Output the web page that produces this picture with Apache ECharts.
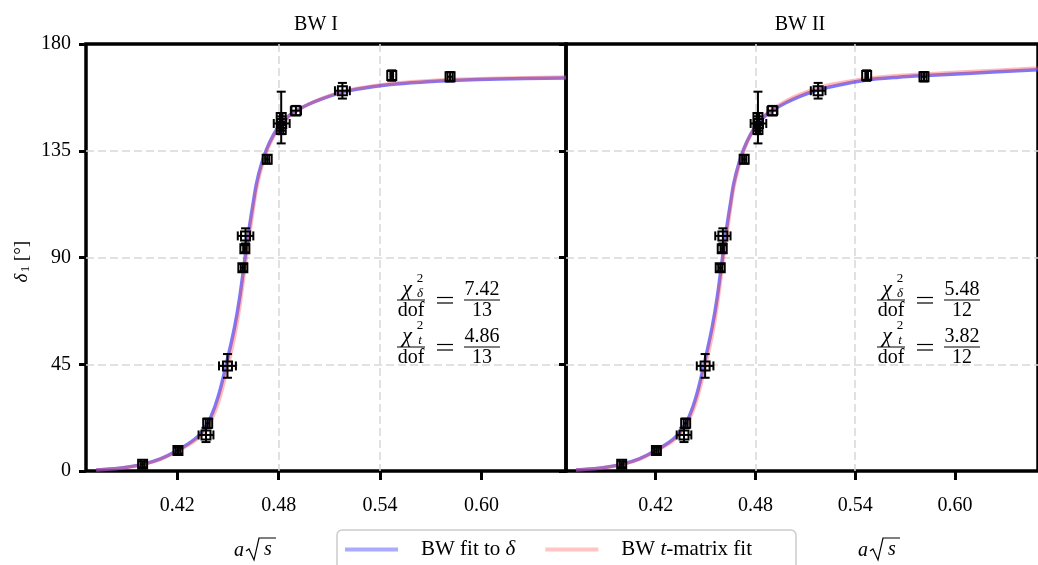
<!DOCTYPE html>
<html>
<head>
<meta charset="utf-8">
<script src="https://cdn.jsdelivr.net/npm/echarts@6/dist/echarts.min.js"></script>
<style>
    html, body { margin: 0; padding: 0; background: #fff; }
    #chart { width: 1038px; height: 565px; }
</style>
</head>
<body>
<div id="chart"></div>
<script>
    var FONT = 'Liberation Serif, DejaVu Serif, serif'

    // lattice points, same in both panels
    var pointX = [0.3995, 0.4204, 0.4370, 0.4380, 0.4497, 0.4588, 0.4600, 0.4604, 0.4732, 0.4815, 0.4818, 0.4815, 0.4902, 0.5177, 0.5469, 0.5814]
    var pointY = [2.8, 8.6, 15.2, 20.1, 44.3, 85.7, 93.7, 99.1, 131.4, 149.0, 146.5, 144.0, 151.9, 160.3, 166.7, 166.2]
    var pointXErr = [0.0012, 0.0014, 0.0044, 0.0012, 0.0050, 0.0012, 0.0010, 0.0046, 0.0012, 0.0008, 0.0047, 0.0012, 0.0030, 0.0044, 0.0008, 0.0015]
    var pointYErr = [1.2, 1.2, 3.0, 2.0, 5.0, 1.5, 1.5, 3.2, 1.8, 10.9, 3.0, 2.0, 2.0, 3.3, 2.2, 2.0]

    // fit bands
    var curveX = [0.372, 0.38, 0.39, 0.40, 0.41, 0.42, 0.43, 0.435, 0.44, 0.4445, 0.4495, 0.454, 0.457, 0.4605, 0.4625, 0.465, 0.467, 0.470, 0.473, 0.477, 0.481, 0.486, 0.491, 0.498, 0.506, 0.516, 0.526, 0.546, 0.566, 0.586, 0.61, 0.65]
    var bw1Delta = [0.4, 0.8, 1.6, 2.9, 5.1, 8.6, 13.2, 16.9, 23.0, 32.0, 46.5, 61.0, 73.5, 92.0, 102.0, 113.3, 121.6, 129.8, 135.9, 141.8, 146.1, 149.7, 152.1, 154.7, 157.0, 159.3, 160.9, 162.9, 164.0, 164.7, 165.2, 165.7]
    var bw1T = [0.4, 0.8, 1.5, 2.8, 4.9, 8.3, 12.5, 15.8, 21.2, 29.2, 42.7, 57.0, 69.5, 88.0, 98.2, 110.4, 119.3, 128.2, 134.8, 141.0, 145.7, 149.5, 152.0, 154.7, 157.2, 159.6, 161.3, 163.3, 164.4, 165.1, 165.6, 166.1]
    var bw2Delta = [0.4, 0.8, 1.6, 2.9, 5.1, 8.6, 13.1, 16.8, 22.8, 31.8, 46.2, 60.8, 73.2, 91.7, 101.7, 113.0, 121.4, 129.6, 135.8, 141.8, 146.1, 149.8, 152.3, 155.1, 157.7, 160.3, 162.1, 164.7, 166.0, 166.8, 167.7, 169.1]
    var bw2T = [0.4, 0.8, 1.5, 2.8, 4.9, 8.3, 12.5, 15.9, 21.4, 29.5, 43.0, 57.3, 69.8, 88.3, 98.5, 110.7, 119.6, 128.5, 135.1, 141.5, 146.3, 150.2, 152.9, 155.9, 158.6, 161.1, 163.0, 165.4, 166.7, 167.5, 168.4, 169.9]

    var xTicks = [0.42, 0.48, 0.54, 0.60]
    var panelTitles = ['BW I', 'BW II']
    var chiDelta = ['7.42', '5.48']
    var chiT = ['4.86', '3.82']
    var dof = ['13', '12']

    var BLUE = '#4040ff'
    var RED = '#ff5050'

    function pairs (xs, ys) {
        return xs.map(function (x, i) { return [x, ys[i]] })
    }

    var points = pointX.map(function (x, i) {
        return [x, pointY[i], pointXErr[i], pointYErr[i]]
    })

    function renderErrorBar (params, api) {
        var x = api.value(0)
        var y = api.value(1)
        var ex = api.value(2)
        var ey = api.value(3)
        var c = api.coord([x, y])
        var l = api.coord([x - ex, y])
        var r = api.coord([x + ex, y])
        var t = api.coord([x, y + ey])
        var b = api.coord([x, y - ey])
        var cap = 4.5
        var half = 4.5
        var st = { stroke: '#000', lineWidth: 2 }
        return {
            type: 'group',
            children: [
                { type: 'line', shape: { x1: l[0], y1: c[1], x2: r[0], y2: c[1] }, style: st },
                { type: 'line', shape: { x1: c[0], y1: t[1], x2: c[0], y2: b[1] }, style: st },
                { type: 'line', shape: { x1: l[0], y1: c[1] - cap, x2: l[0], y2: c[1] + cap }, style: st },
                { type: 'line', shape: { x1: r[0], y1: c[1] - cap, x2: r[0], y2: c[1] + cap }, style: st },
                { type: 'line', shape: { x1: c[0] - cap, y1: t[1], x2: c[0] + cap, y2: t[1] }, style: st },
                { type: 'line', shape: { x1: c[0] - cap, y1: b[1], x2: c[0] + cap, y2: b[1] }, style: st },
                { type: 'rect', shape: { x: c[0] - half, y: c[1] - half, width: 2 * half, height: 2 * half }, style: { stroke: '#000', lineWidth: 2, fill: 'none' } }
            ]
        }
    }

    function txt (x, y, text, size, italic) {
        return {
            type: 'text',
            x: x,
            y: y,
            style: {
                text: text,
                fontSize: size,
                fontFamily: FONT,
                fontStyle: italic ? 'italic' : 'normal',
                fill: '#000',
                align: 'center',
                verticalAlign: 'middle'
            }
        }
    }

    function hline (x1, x2, y, w) {
        return { type: 'line', shape: { x1: x1, y1: y, x2: x2, y2: y }, style: { stroke: '#000', lineWidth: w || 1 } }
    }

    // chi^2/dof = a/b, built by hand
    function chiBlock (dx, lineY, sub, value, n) {
        var items = []
        var fx = 411 + dx
        items.push(txt(fx - 4, lineY - 11, 'χ', 22, true))
        items.push(txt(fx + 9, lineY - 21, '2', 13))
        items.push(txt(fx + 9, lineY - 6, sub, 13, true))
        items.push(hline(fx - 14, fx + 14, lineY))
        items.push(txt(fx, lineY + 11, 'dof', 20))
        items.push(hline(437 + dx, 453 + dx, lineY - 2.5, 1.2))
        items.push(hline(437 + dx, 453 + dx, lineY + 3, 1.2))
        items.push(hline(464 + dx, 500 + dx, lineY))
        items.push(txt(482 + dx, lineY - 10, value, 20))
        items.push(txt(482 + dx, lineY + 11, n, 20))
        return items
    }

    function xName (x0) {
        return [
            txt(x0 + 6, 551, 'a', 20, true),
            { type: 'polyline', shape: { points: [[x0 + 13, 551], [x0 + 16, 549], [x0 + 21, 560], [x0 + 26, 538], [x0 + 43, 538]] }, style: { stroke: '#000', lineWidth: 1.2, fill: null } },
            txt(x0 + 35, 550, 's', 20, true)
        ]
    }

    var graphics = []
    for (var p = 0; p < 2; p++) {
        graphics = graphics.concat(chiBlock(480 * p, 300, 'δ', chiDelta[p], dof[p]))
        graphics = graphics.concat(chiBlock(480 * p, 347, 't', chiT[p], dof[p]))
    }
    graphics = graphics.concat(xName(233), xName(857))
    graphics.push({
        type: 'group',
        x: 22,
        y: 262,
        rotation: Math.PI / 2,
        children: [
            txt(-16, 0, 'δ', 19, true),
            txt(-7, 4, '1', 13),
            txt(11, 0, '[°]', 19)
        ]
    })

    var grids = [
        { left: 86, right: 472, top: 44, bottom: 94, show: true, borderColor: '#000', borderWidth: 3.5 },
        { left: 566, right: -8, top: 44, bottom: 94, show: true, borderColor: '#000', borderWidth: 3.5 }
    ]

    var gridLine = { color: '#d8d8d8', width: 1.5, type: [8, 4] }

    var xAxes = [0, 1].map(function (i) {
        return {
            type: 'value',
            gridIndex: i,
            min: 0.366,
            max: 0.65,
            axisLine: { show: false },
            axisTick: { show: true, length: 9, lineStyle: { color: '#000', width: 3 }, customValues: xTicks },
            axisLabel: { customValues: xTicks, margin: 25, fontSize: 20, fontFamily: FONT, color: '#000', formatter: function (v) { return v.toFixed(2) } },
            splitLine: { show: true, showMinLine: false, showMaxLine: false, lineStyle: gridLine }
        }
    })

    var yAxes = [0, 1].map(function (i) {
        return {
            type: 'value',
            gridIndex: i,
            min: 0,
            max: 180,
            interval: 45,
            axisLine: { show: false },
            axisTick: { show: true, length: 7, lineStyle: { color: '#000', width: 3 } },
            axisLabel: { show: i === 0, margin: 15, fontSize: 20, fontFamily: FONT, color: '#000' },
            splitLine: { show: true, showMinLine: false, showMaxLine: false, lineStyle: gridLine }
        }
    })

    var bandData = [[bw1Delta, bw1T], [bw2Delta, bw2T]]
    var series = []
    for (var k = 0; k < 2; k++) {
        series.push({
            name: 'BW fit to δ',
            type: 'line',
            xAxisIndex: k,
            yAxisIndex: k,
            data: pairs(curveX, bandData[k][0]),
            showSymbol: false,
            smooth: 0.35,
            lineStyle: { color: BLUE, width: 3.5, opacity: 0.7 },
            itemStyle: { color: BLUE },
            z: 2,
            animation: false
        })
        series.push({
            name: 'BW t-matrix fit',
            type: 'line',
            xAxisIndex: k,
            yAxisIndex: k,
            data: pairs(curveX, bandData[k][1]),
            showSymbol: false,
            smooth: 0.35,
            lineStyle: { color: RED, width: 3.5, opacity: 0.38 },
            itemStyle: { color: RED },
            z: 3,
            animation: false
        })
        series.push({
            name: 'data',
            type: 'custom',
            xAxisIndex: k,
            yAxisIndex: k,
            renderItem: renderErrorBar,
            encode: { x: 0, y: 1 },
            data: points,
            z: 5,
            animation: false
        })
    }

    var chart = echarts.init(document.getElementById('chart'))
    chart.setOption({
        backgroundColor: '#fff',
        animation: false,
        title: [
            { text: panelTitles[0], left: 311, top: 10, textAlign: 'center', textStyle: { fontSize: 20, fontWeight: 'normal', fontFamily: FONT, color: '#000' } },
            { text: panelTitles[1], left: 795, top: 10, textAlign: 'center', textStyle: { fontSize: 20, fontWeight: 'normal', fontFamily: FONT, color: '#000' } }
        ],
        legend: {
            left: 337,
            top: 530,
            padding: [9, 44, 14, 8],
            itemGap: 30,
            itemWidth: 53,
            itemHeight: 4,
            icon: 'rect',
            backgroundColor: '#fff',
            borderColor: '#cccccc',
            borderWidth: 1.5,
            borderRadius: 5,
            data: [
                { name: 'BW fit to δ', itemStyle: { color: '#aaaaff' } },
                { name: 'BW t-matrix fit', itemStyle: { color: '#ffc4c4' } }
            ],
            formatter: function (name) {
                return name === 'BW fit to δ' ? '{n|BW fit to }{i|δ}' : '{n|BW }{i|t}{n|-matrix fit}'
            },
            textStyle: {
                padding: [0, 0, 0, 18],
                rich: {
                    n: { fontSize: 21, fontFamily: FONT, color: '#000' },
                    i: { fontSize: 21, fontFamily: FONT, fontStyle: 'italic', color: '#000' }
                }
            }
        },
        grid: grids,
        xAxis: xAxes,
        yAxis: yAxes,
        series: series,
        graphic: graphics
    })
</script>
</body>
</html>
